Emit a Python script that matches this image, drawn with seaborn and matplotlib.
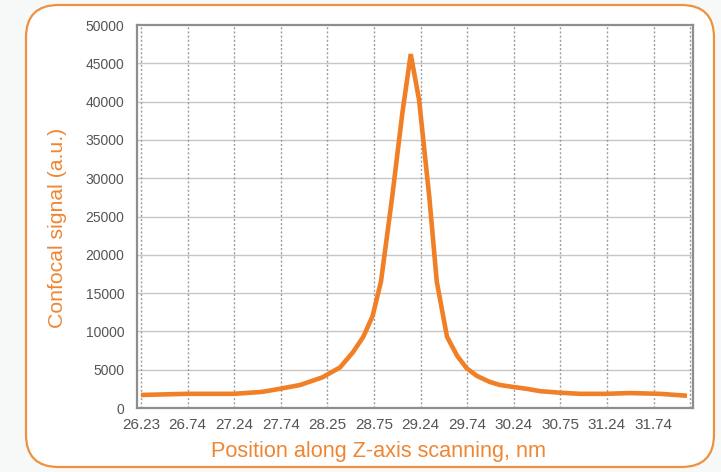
import matplotlib
matplotlib.use("Agg")
import matplotlib.pyplot as plt
import seaborn as sns
import pandas as pd
from matplotlib.patches import FancyBboxPatch

# ---- data ----
z_nm = [26.23, 26.72, 27.23, 27.53, 27.72, 27.94, 28.18, 28.37, 28.51, 28.62,
        28.72, 28.81, 28.93, 29.04, 29.13, 29.22, 29.33, 29.41, 29.52, 29.63,
        29.73, 29.84, 29.98, 30.09, 30.23, 30.38, 30.52, 30.73, 30.95, 31.22,
        31.49, 31.81, 32.10]
signal = [1700, 1850, 1850, 2100, 2500, 3000, 4000, 5300, 7300, 9300,
          12000, 16500, 27500, 38500, 46200, 40200, 27500, 16500, 9300, 6800,
          5200, 4200, 3400, 3000, 2750, 2500, 2200, 2000, 1850, 1850,
          1950, 1850, 1600]
tick_labels = ["26.23", "26.74", "27.24", "27.74", "28.25", "28.75", "29.24",
               "29.74", "30.24", "30.75", "31.24", "31.74"]
y_ticks = [0, 5000, 10000, 15000, 20000, 25000, 30000, 35000, 40000, 45000, 50000]

df = pd.DataFrame({"z": z_nm, "signal": signal})

sns.set_style("white")
plt.rcParams['font.family'] = ['Liberation Sans', 'DejaVu Sans']

ORANGE = "#F07F26"
LABEL_ORANGE = "#EE8633"
GRAY_TXT = "#555555"

fig = plt.figure(figsize=(7.21, 4.72), dpi=100)
fig.patch.set_facecolor("#f7f8f8")

# rounded orange frame
frame = FancyBboxPatch((26/721, 5/472), (714-26)/721, (467-5)/472,
                       boxstyle="round,pad=0,rounding_size=0.045",
                       transform=fig.transFigure, facecolor="white",
                       edgecolor="#F0913F", linewidth=1.6,
                       mutation_aspect=721/472, zorder=-10)
fig.patches.append(frame)

ax = fig.add_axes([137/721, 1 - 408/472, (693-137)/721, (408-25)/472])
ax.set_zorder(5)
ax.set_facecolor("white")

sns.lineplot(data=df, x="z", y="signal", ax=ax, color=ORANGE, linewidth=3.3,
             solid_joinstyle="miter", solid_capstyle="butt")

# ticks: evenly spaced category-like labels
tick_pos = [26.23 + 0.501 * i for i in range(len(tick_labels))]
ax.set_xticks(tick_pos)
ax.set_xticklabels(tick_labels)
ax.set_xlim(26.187, 32.165)
ax.set_ylim(0, 50000)
ax.set_yticks(y_ticks)
ax.set_yticklabels([str(v) for v in y_ticks])

ax.tick_params(axis="both", length=0, labelcolor=GRAY_TXT)
ax.tick_params(axis="y", pad=9, labelsize=10)
ax.tick_params(axis="x", pad=7, labelsize=11)

# grids
ax.grid(False)
for v in y_ticks[1:-1]:
    ax.axhline(v, color="#c9c6c6", linewidth=1.0, zorder=0)
for p in tick_pos + [32.13]:
    ax.axvline(p, color="#a09c9c", linewidth=1.0, linestyle=(0, (1.5, 1.5)), zorder=0)

for s in ax.spines.values():
    s.set_visible(True)
    s.set_color("#8e8e8e")
    s.set_linewidth(1.6)

ax.set_xlabel("Position along Z-axis scanning, nm", fontsize=15.6,
              color=LABEL_ORANGE)
ax.xaxis.set_label_coords(0.435, -0.085)
ax.set_ylabel("Confocal signal (a.u.)", fontsize=15.3, color=LABEL_ORANGE)
ax.yaxis.set_label_coords(-0.126, 0.47)

fig.savefig("out.png", dpi=100, facecolor=fig.get_facecolor())
